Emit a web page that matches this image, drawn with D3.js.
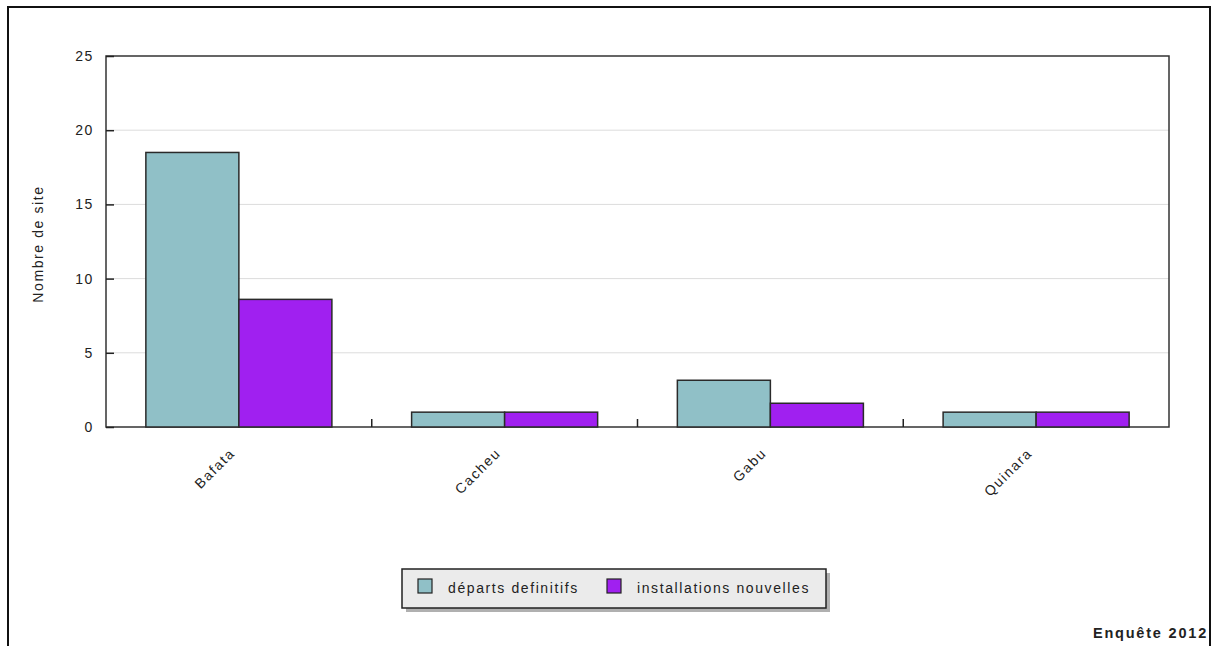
<!DOCTYPE html>
<html><head><meta charset="utf-8">
<script src="https://cdn.jsdelivr.net/npm/d3@7"></script>
<style>
html,body{margin:0;padding:0;background:#fff;}
text{font-family:"Liberation Sans",Arial,sans-serif;fill:#222;}
</style></head>
<body>
<svg id="chart" width="1214" height="646"></svg>
<script>
const categories = ["Bafata", "Cacheu", "Gabu", "Quinara"];
const seriesNames = ["départs definitifs", "installations nouvelles"];
const departs = [18.5, 1, 3.15, 1];
const installations = [8.6, 1, 1.6, 1];
const yTicks = [0, 5, 10, 15, 20, 25];
const colors = ["#90c0c7", "#a020f0"];
const yTitle = "Nombre de site";
const credit = "Enquête 2012";

const svg = d3.select("#chart");
const L = 106, R = 1169, T = 56, B = 427;
const FS = 14, LS = "1.6px";

// outer frame
svg.append("path").attr("d", `M8,646 L8,7 L1210,7 L1210,646`)
  .attr("fill", "none").attr("stroke", "#111").attr("stroke-width", 2);

const x0 = d3.scaleBand().domain(categories).range([L, R]).padding(0);
const bw = x0.bandwidth();
const x1 = d3.scaleBand().domain(seriesNames).range([0.15 * bw, 0.85 * bw]).padding(0);
const y = d3.scaleLinear().domain([0, 25]).range([B, T]);

// grid
svg.append("g").selectAll("line").data(yTicks.filter(d => d > 0 && d < 25)).join("line")
  .attr("x1", L).attr("x2", R).attr("y1", d => y(d)).attr("y2", d => y(d))
  .attr("stroke", "#dcdcdc").attr("stroke-width", 1);

// plot frame
svg.append("rect").attr("x", L).attr("y", T).attr("width", R - L).attr("height", B - T)
  .attr("fill", "none").attr("stroke", "#333").attr("stroke-width", 1.5);

// bars
const data = categories.map((c, i) => ({ c, vals: [departs[i], installations[i]] }));
const g = svg.append("g");
data.forEach(d => {
  d.vals.forEach((v, j) => {
    g.append("rect")
      .attr("x", x0(d.c) + x1(seriesNames[j]))
      .attr("y", y(v))
      .attr("width", x1.bandwidth())
      .attr("height", y(0) - y(v))
      .attr("fill", colors[j]).attr("stroke", "#2a2a2a").attr("stroke-width", 1.5);
  });
});

// y axis
const yAxis = d3.axisLeft(y).tickValues(yTicks).tickSize(-8).tickPadding(12);
const ya = svg.append("g").attr("transform", `translate(${L},0)`).call(yAxis);
ya.select(".domain").remove();
ya.selectAll(".tick line").attr("stroke", "#222").attr("stroke-width", 1.5);
ya.selectAll(".tick text").attr("font-size", FS).attr("font-family", "Liberation Sans, Arial, sans-serif")
  .style("letter-spacing", LS).attr("fill", "#222");

// x axis (ticks at band boundaries, pointing inward)
const xa = svg.append("g");
categories.slice(1).forEach(c => {
  xa.append("line").attr("x1", x0(c)).attr("x2", x0(c)).attr("y1", B).attr("y2", B - 8)
    .attr("stroke", "#222").attr("stroke-width", 1.5);
});
xa.selectAll("text").data(categories).join("text")
  .attr("transform", d => `translate(${x0(d) + bw / 2 - 3},${B + 27}) rotate(-45)`)
  .attr("text-anchor", "end").attr("font-size", FS).style("letter-spacing", LS)
  .text(d => d);

// y title
svg.append("text").attr("transform", `translate(43,244) rotate(-90)`)
  .attr("text-anchor", "middle").attr("font-size", FS).style("letter-spacing", LS)
  .text(yTitle);

// legend
const lg = svg.append("g");
lg.append("rect").attr("x", 406).attr("y", 573).attr("width", 424).attr("height", 39).attr("fill", "#b0b0b0");
lg.append("rect").attr("x", 402).attr("y", 569).attr("width", 424).attr("height", 39)
  .attr("fill", "#ebebeb").attr("stroke", "#222").attr("stroke-width", 1.5);
const legX = [418, 607];
seriesNames.forEach((s, j) => {
  lg.append("rect").attr("x", legX[j]).attr("y", 579).attr("width", 14).attr("height", 14)
    .attr("fill", colors[j]).attr("stroke", "#222").attr("stroke-width", 1.2);
  lg.append("text").attr("x", legX[j] + 30).attr("y", 593).attr("font-size", FS)
    .style("letter-spacing", LS).text(s);
});

// credit
svg.append("text").attr("x", 1208).attr("y", 638).attr("text-anchor", "end")
  .attr("font-size", 14.5).attr("font-weight", "bold").style("letter-spacing", "1.8px").text(credit);
</script>
</body></html>
